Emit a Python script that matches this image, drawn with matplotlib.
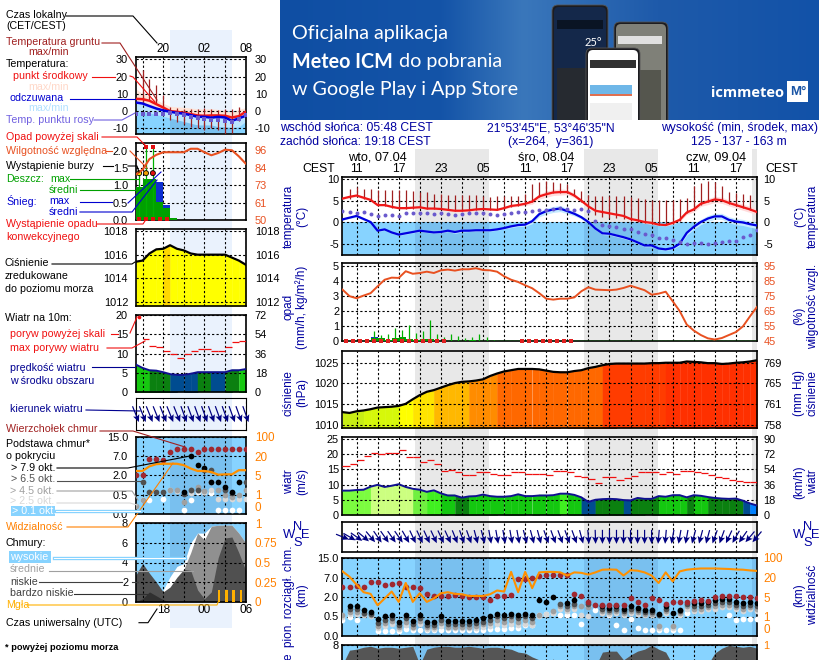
import numpy as np
import matplotlib
matplotlib.use("Agg")
import matplotlib.pyplot as plt
from matplotlib.patches import FancyBboxPatch, Rectangle

plt.rcParams['font.family'] = ['Liberation Sans', 'DejaVu Sans']

n = np.nan

# ---------- long forecast, one value per hour, 07.04 09:00 to 09.04 20:00
hours = np.arange(9, 69)
temp = [5.5, 5.9, 6.2, 5.7, 5.2, 4.0, 4.0, 3.6, 3.3, 3.3,
        3.4, 3.5, 3.2, 3.2, 3.1, 2.9, 2.7, 2.7, 2.8, 3.0,
        3.1, 3.0, 2.9, 3.3, 3.8, 4.0, 4.3, 4.8, 6.0, 6.5,
        6.9, 7.0, 7.0, 6.2, 5.0, 3.7, 2.7, 2.4, 2.1, 1.8,
        1.5, 0.8, 0.5, 0.1, -0.1, -0.5, -0.6, -0.1, 0.6, 2.3,
        3.0, 4.3, 4.8, 5.3, 5.1, 4.5, 4.0, 3.5, 3.0, 2.4]
feels = [0.7, 1.1, 1.5, 0.8, 0.1, -1.9, -1.6, -2.3, -2.8, -2.5,
         -2.2, -1.9, -2.1, -2.3, -2.2, -1.9, -2.2, -1.9, -1.9, -1.8,
         -1.8, -1.8, -1.6, -1.3, -0.9, -0.6, -0.5, 0.3, 1.9, 2.6,
         3.0, 3.2, 2.6, 2.0, 1.2, 0.1, -1.4, -2.5, -2.6, -3.0,
         -3.4, -3.9, -4.6, -5.3, -5.3, -6.0, -6.2, -5.9, -4.9, -2.4,
         -1.0, 0.1, 0.9, 1.4, 1.4, 0.6, 0.2, 0.0, -0.4, -0.7]
dew = [2.7, 2.4, 2.2, 2.4, 2.0, 1.5, 1.7, 1.7, 1.5, 2.1,
       2.1, 2.2, 2.2, 2.0, 2.1, 1.9, 1.7, 1.9, 2.2, 2.2,
       2.2, 1.9, 1.7, 1.9, 2.2, 2.3, 2.5, 2.6, 2.9, 2.9,
       3.2, 3.3, 3.0, 2.8, 3.0, 2.6, 0.3, -0.7, -0.9, -1.1,
       -1.5, -1.5, -2.1, -2.6, -3.0, -3.5, -3.5, -4.0, -4.5, -5.0,
       -4.8, -4.8, -5.0, -4.8, -4.5, -4.3, -4.3, -3.4, -3.0, -1.7]
spread = [0.2, 0.2, 0.3, 0.3, 0.2, 0.2, 0.2, 0.2, 0.2, 0.2,
          0.2, 0.2, 0.2, 0.2, 0.2, 0.2, 0.3, 0.3, 0.2, 0.2,
          0.2, 0.2, 0.2, 0.2, 0.3, 0.3, 0.4, 0.6, 0.6, 0.7,
          0.7, 0.7, 0.6, 0.5, 0.4, 0.3, 0.3, 0.3, 0.3, 0.3,
          0.3, 0.3, 0.3, 0.3, 0.3, 0.2, 0.2, 0.3, 0.4, 0.5,
          0.6, 0.6, 0.7, 0.7, 0.7, 0.7, 0.7, 0.7, 0.7, 0.7]
ground_hours = np.arange(10, 68)
ground_max = [7.8, 8.2, 7.8, 7.8, 7.4, 7.5, 7.5, 7.4, 7.4, 7.2,
              7.1, 6.9, 6.6, 6.6, 6.4, 6.4, 6.4, 6.3, 6.4, 6.0,
              5.8, 6.0, 6.0, 6.0, 6.2, 6.6, 8.9, 9.3, 9.5, 9.3,
              9.1, 8.9, 7.6, 7.2, 6.4, 6.2, 6.2, 6.2, 6.0, 6.0,
              5.8, 5.6, 5.4, 5.2, 5.2, 5.2, 5.2, 5.4, 5.6, 8.5,
              9.1, 9.5, 9.4, 8.5, 7.0, 6.8, 6.6, 6.4]
ground_min = [5.5, 6.0, 5.5, 5.0, 3.8, 3.8, 3.4, 3.2, 3.2, 3.2,
              3.3, 3.0, 3.0, 3.0, 2.8, 2.6, 2.6, 2.7, 2.9, 3.0,
              2.9, 2.8, 3.1, 3.6, 3.8, 4.1, 4.6, 5.8, 6.3, 6.7,
              6.8, 6.8, 6.0, 4.8, 3.2, 1.6, 1.3, 1.1, 1.0, 0.8,
              0.4, 0.2, -0.2, -0.3, -0.6, -0.7, -0.4, 0.4, 2.1, 2.8,
              4.1, 4.6, 5.1, 4.9, 4.3, 3.8, 3.3, 2.8]

humidity = [79.4, 75, 73.6, 75.4, 77, 81.6, 86, 87.4, 87.2, 91.7,
            90, 90.5, 91.4, 90.5, 92.3, 92.8, 92.1, 93, 93, 93.7,
            92.5, 92.3, 91.4, 88.3, 86, 84.5, 82.3, 80.3, 77, 73.3,
            72.7, 73.3, 73.3, 74.2, 78.3, 81, 79.4, 79.2, 79, 79.4,
            80.5, 82, 80.5, 79, 76, 76.7, 78, 71.6, 65, 56,
            52, 49, 46.8, 46, 47, 49, 51, 54.8, 61.5, 67.8]
rain_hours = np.arange(13, 32)
rain_max = [0.65, 0.4, 0.45, 0.9, 0.75, 1.05, 0.55, 0.65, 1.4, 0.5,
            0.3, 0.45, 0.35, 0.2, 0.3, 0.5, 0.25, 0.05, 0.03]
rain_avg = [0.2, 0.2, 0.1, 0.2, 0.25, 0.15, 0.05, 0.15, 0.15, 0.02,
            0.02, 0.02, 0.02, 0.02, 0.07, 0.02, 0.02, 0.01, 0.01]
snow_avg = [0.3, 0.05, 0, 0, 0, 0, 0, 0, 0, 0,
            0, 0, 0, 0, 0, 0, 0, 0, 0]
convective_hours = [9, 10, 11, 12, 13, 14, 15, 16, 17, 18, 19, 20, 21, 22, 23,
                    34, 35, 36, 37, 38, 39, 40, 41]

pressure = [1013.1, 1012.9, 1013.3, 1013.5, 1013.8, 1014.2, 1014.3, 1014.4, 1014.6, 1015.1,
            1016.2, 1017.2, 1018, 1018.4, 1019, 1019.6, 1020.1, 1020.4, 1020.5, 1020.7,
            1021, 1021.8, 1022.4, 1022.9, 1023.2, 1023.5, 1023.5, 1023.5, 1023.4, 1023.1,
            1022.8, 1022.7, 1022.7, 1023, 1023.2, 1023.7, 1024, 1024.4, 1024.7, 1024.8,
            1024.8, 1024.8, 1024.8, 1024.8, 1024.9, 1024.9, 1025, 1025, 1025, 1025.3,
            1025.2, 1025.1, 1024.9, 1024.9, 1024.7, 1024.8, 1025, 1025.1, 1025.3, 1025.6]
pressure_colors = (['#c8ee14'] * 3 + ['#d6f80a'] * 5 + ['#ffff00'] * 2 + ['#ffe400'] * 3
                   + ['#ffb800'] * 5 + ['#ff8c00'] * 4 + ['#ff6800'] * 15 + ['#ff3c00'] * 9
                   + ['#ff3000'] * 13)

wind = [8, 8, 8.2, 8.3, 9.3, 9.9, 9.2, 9.6, 10.1, 9.2,
        8.6, 8.3, 7.6, 8.1, 7.1, 6.4, 6.4, 5.7, 6.1, 6.2,
        6.7, 6.2, 6, 6, 6.2, 6.8, 6.2, 6.2, 6.4, 6.4,
        6.5, 7, 7, 6.6, 5.8, 4.3, 5, 5.2, 5.3, 5.2,
        4.9, 4.8, 5.6, 5.3, 5.3, 6.2, 6, 6.5, 6.5, 5.8,
        6.5, 6.3, 5.9, 5.6, 5.4, 5.3, 5.4, 4.7, 3.8, 3.1]
wind_colors = (['#7cfc40'] * 4 + ['#ccff80'] * 6 + ['#70f040'] * 2 + ['#40f020'] * 2
               + ['#14c810'] * 2 + ['#0b8010'] * 2 + ['#14c810'] * 13 + ['#40f020']
               + ['#14c810'] * 2 + ['#004c90'] * 2 + ['#0b8010'] * 4 + ['#004c90']
               + ['#0b8010'] * 4 + ['#14c810'] * 4 + ['#0b8010'] + ['#14c810'] * 2
               + ['#0b8010'] * 5 + ['#004c90'] + ['#0080ff'])
gust = [16.2, 16.6, 18, 19.3, 20.2, 20, 20.5, 20.2, 21.3, 19,
        19, 17.5, 18, 16.7, 14.4, 14.7, 14, 13, 13, 14,
        14, 13.6, 13, 13, 14, 14, 13.4, 13.6, 13.6, 13,
        14.3, 14.3, 14, 12.8, 12.5, 11.7, 10.4, 12.5, 12.5, 11.5,
        12, 12.8, 14, 14, 14, 13.4, 14, 13.4, 14.3, 14.3,
        14, 13.8, 13, 12.5, 12, 11.5, 11.3, 10.7, 10.7]
wind_dir = [292, 300, 305, 310, 320, 325, 325, 325, 325, 330,
            335, 335, 335, 335, 335, 335, 338, 340, 340, 345,
            345, 350, 350, 350, 350, 350, 345, 345, 345, 340,
            340, 340, 340, 340, 345, 355, 358, 0, 0, 0,
            0, 0, 0, 0, 0, 5, 5, 10, 10, 10,
            15, 15, 15, 20, 20, 25, 30, 35, 40, 40]

cloud_top = [4.5, 4.5, 4.7, 4.5, 5.9, 5.9, 5, 5.3, 5.6, 4.5,
             4.5, 4.3, 2.7, 2.2, 2.2, 2.2, 2.5, 2.2, 2, 2,
             2, 1.75, 2.2, 2.2, 2.4, 6.5, 6.6, 7, 7.8, 8,
             8.2, 8.2, 8.2, 2.8, 2.2, 1.6, 1.4, 1.4, 1.4, 1.4,
             1.4, 1.9, 1.6, 1.4, 1.9, 1.75, 1.5, 1.6, 1.6, 1.6,
             1.7, 1.75, 1.7, 2, 2.3, 2.3, 2.3, 2.1, 2, 1.9]
base_79 = [n, 1.28, 1.28, 0.98, 0.83, 0.44, 0.53, 0.63, 0.35, 0.6,
           0.39, 0.63, 0.37, 0.37, 0.53, 0.38, 0.38, 0.38, 0.38, 0.42,
           0.46, 0.53, 0.7, 0.63, 0.7, 0.63, 0.7, 0.63, 1.78, 1.65,
           2.1, n, 1.53, 1.78, n, n, n, 1.28, 1.15, 1.28,
           1.08, 1.28, 1.15, 0.98, 0.98, 0.73, 1.28, 0.78, 1.03, n,
           1.53, 1.53, 1.65, 1.78, 1.83, 1.83, 1.65, 1.53, 1.65, 1.53]
base_65 = [n, 1.05, 1.05, 0.8, 0.72, 0.33, 0.42, 0.47, 0.28, 0.45,
           0.3, 0.47, 0.28, 0.28, 0.42, 0.3, 0.3, 0.3, 0.3, 0.33,
           0.37, 0.42, 0.52, 0.47, 0.52, 0.47, 0.52, 0.47, n, n,
           n, 1.5, 1.3, 1.5, n, 1.45, n, 1.1, 1.0, 1.1,
           0.9, 1.1, 1.0, 0.85, 0.85, 0.6, 1.1, n, 0.9, 1.5,
           1.3, 1.3, 1.4, 1.55, 1.6, 1.6, 1.4, 1.3, 1.4, 1.3]
base_45 = [0.6, 0.85, 0.85, 0.7, 0.62, 0.25, 0.33, 0.38, 0.22, 0.35,
           0.24, 0.38, 0.23, 0.23, 0.33, 0.24, 0.24, 0.24, 0.24, 0.26,
           0.3, 0.33, 0.4, 0.37, 0.4, 0.37, 0.4, 0.37, 0.62, n,
           0.9, 1.3, 1.1, 1.3, 1.3, 1.2, n, 0.95, 0.85, 0.9,
           0.75, 0.9, 0.85, 0.72, 0.72, 0.25, 0.9, 0.25, 0.75, 1.3,
           1.1, 1.1, 1.2, 1.3, 1.4, 1.4, 1.2, 1.1, 1.2, 1.1]
base_25 = [0.5, 0.7, 0.7, 0.62, 0.55, 0.2, 0.26, 0.3, 0.18, 0.27,
           0.2, 0.3, 0.18, 0.18, 0.26, 0.2, 0.2, 0.2, 0.2, 0.21,
           0.24, 0.26, 0.3, 0.28, 0.3, 0.28, 0.3, 0.28, 0.55, 0.7,
           0.8, 1.1, 0.95, 1.1, 0.6, 0.55, n, 0.8, 0.72, 0.78,
           0.62, 0.78, 0.72, 0.6, 0.6, 0.2, 0.78, 0.2, 0.62, 1.1,
           0.95, 0.95, 1.05, 1.1, 1.2, 1.2, 1.05, 0.95, 1.05, 0.95]
base_01 = [0.4, 0.5, 0.4, n, n, 0.14, 0.14, 0.14, 0.14, 0.17,
           0.15, 0.15, 0.15, 0.15, 0.15, 0.15, 0.15, 0.16, 0.15, 0.15,
           0.15, 0.19, 0.19, 0.19, 0.2, 0.2, 0.29, 0.29, 0.6, 0.7,
           0.75, 0.62, 0.62, 0.62, 0.32, 1.28, 1.0, 0.95, 0.65, 0.29,
           0.15, 0.44, 0.21, 0.16, 0.15, 0.15, 0.15, 0.15, 0.15, 0.8,
           1.28, 1.4, 1.5, 1.6, 1.65, 0.65, 0.4, 0.44, 0.44, 0.44]
visibility = [45, 23, 14.5, 8.7, 7.4, 3.3, 4.7, 9.2, 4, 15.8,
              4, 7.9, 4, 4.7, 7.9, 8.7, 7.4, 7.1, 5.8, 5.8,
              5.8, 7.1, 10, 9.2, 43, 8.7, 43, 11.8, 41, 43,
              43, 41, 28, 41, 39, 32, 41, 52, 53, 52,
              28, 50, 48, 41, 28, 15.8, 41, 17, 45, 52,
              55, 57, 57, 57, 56, 55, 53, 52, 49, 47]
clouds = [6, 7.5, 7.6, 7.8, 7.9, 7.7, 7.8, 7.8, 7.7, 7.8,
          7.9, 6, 7.6, 7.8, 7.9, 7.9, 7.8, 7.8, 7.9, 7.8,
          7.7, 7.8, 7.8, 7.7, 7.6, 7.3, 7.2, 6.8, 6.5, 6,
          6.6, 5.5, 5, 5, 5, 5, 5.8, 7.3, 7.4, 7.4,
          6.5, 7, 7.4, 7.6, 8, 7.6, 7.3, 6, 5, 5,
          5, 5, 6, 7.2, 7.7, 8, 7.9, 7.8, 7.9, 7.7]

# ---------- short forecast in the legend column, 16:00 to 08:00
legend_hours = np.arange(16, 33)
l_temp = [7.1, 6.9, 6, 4, 2.1, 0, -0.4, -1, -1.7, -2.5, -2.7, -2.5, -2.5, -2.7, -3.7, -2.9, -0.4]
l_feels = [5, 4.4, 2.9, 1.5, 0.4, -0.4, -1, -1.5, -2.3, -3.3, -3.3, -3.8, -3.3, -3.7, -5.6, -4.2, -2.7]
l_dew = [-1.5, -1.4, -1.5, -1.5, -1.4, -1, -1.4, -2.3, -3.3, -3.7, -4.7, -4.9, -5.3, -5.6, -6.3, -4.7, -2.3]
l_temp_hi = [13, 10, 8.5, 6.5, 4.5, 2.8, 2.5, 2.2, 1.8, 1.3, 1.2, 1.4, 1, 0.3, -0.4, 1, 2]
l_feels_lo = [-0.5, -0.5, -1, -2, -3, -4, -5, -6, -7, -8, -8, -8, -9, -9, -9.5, -9, -6]
l_ground_hours = np.arange(17, 32)
l_ground_max = [23.6, 18.8, 15, 9.2, 2.5, 2, 1.5, 1, 1.5, 2, 1.5, 0.6, 1, 1.5, 2.5]
l_ground_min = [4.4, 6.3, 4.4, 0.6, -5.2, -6.2, -7.5, -9, -10, -11, -10, -11, -13, -12.5, -5.6]
l_humidity = [79.9, 83.2, 90.2, 93, 94.7, 94.7, 94.7, 94.7, 97, 97, 94.7, 92.7, 94.2, 96.4, 96, 92, 87.2]
l_rain = [0.96, 1.17, 1.17, 0.53, 0.34, 0.07]
l_snow = [0, 0, 0, 1.09, 0.43, 0]
l_rain_hours = [16, 17, 18, 19, 20, 21]
l_rain_max = [1.4, 2.1, 2.1]
l_pressure = [1015.4, 1015.5, 1016.1, 1016.45, 1016.5, 1016.8, 1016.5, 1016.36, 1016.1, 1016, 1016,
              1016, 1016, 1016, 1015.75, 1015.5, 1015.15]
l_pressure_colors = ['#ffff00'] * 4 + ['#ffd800'] + ['#ffff00'] * 11
l_wind = [7.2, 6.3, 5.7, 5.6, 5.2, 4.7, 4.5, 4.5, 4.8, 5.2, 5.2, 5.2, 5.2, 5.2, 5.7, 5.7, 6]
l_wind_colors = (['#16c810'] * 2 + ['#0b8010'] * 3 + ['#004c90'] * 4 + ['#0b8010'] * 2
                 + ['#004c90'] * 2 + ['#0b8010'] * 2 + ['#16c810'])
l_gust = [n, 13.8, 11.9, 11.7, 10.8, 9.8, 9, 9.9, 10.7, 11.1, 11.1, 10.8, 10.8, 11.8, 13, 13.2]
l_dir = [338, 338, 338, 338, 338, 338, 338, 340, 340, 340, 340, 340, 340, 340, 340, 340, 340]
l_top = [2, 2, 6.2, 6.2, 5.9, 8.8, 9.8, 9.8, 9.8, 8.8, 9.8, 9.8, 9.8, 9.8, 9.8, 9.8, 9.8]
l_79 = [n, n, n, n, n, n, n, 0.7, 7, 4.8, 3.9, 1.5, 1.5, 1.1, 0.7, 1.5, n]
l_65 = [n, 1.5, 0.7, 0.7, 0.7, n, n, 0.55, 0.9, 0.9, 3.3, 3.3, n, 0.9, 0.6, n, 1.5]
l_45 = [0.2, 0.35, n, n, n, 0.9, 0.9, 0.3, 0.85, 1.1, 0.8, 1.5, 0.85, 0.5, 0.45, 0.5, 0.9]
l_25 = [n, n, n, n, n, 0.85, 0.8, n, 0.6, 0.75, 0.7, 0.85, 0.4, 0.4, 0.4, 0.4, 0.4]
l_01 = [n, 0.35, 0.35, n, 0.4, n, n, 0.1, 0.35, 0.7, 0.7, 0.6, 0.1, 0.1, 0.1, 0.1, n]
l_vis = [8.4, 8.4, 12, 13.7, 14, 14, 14, 12.9, 10.3, 8.4, 8.4, 7.6, 5.5, 5.8, 5.8, 9, 9]
l_high = [0, 0, 0, 0, 1.2, 2.55, 3.6, 3.9, 6, 7, 7, 7.7, 7.8, 7.8, 7.8, 7, 6]
l_mid = [0, 0, 0, 0, 0, 0, 1.5, 3.3, 5, 7, 6.3, 7.7, 7.8, 7.8, 7.8, 7, 6]
l_low = [2.7, 3.9, 2.9, 2, 1, 1.5, 2.5, 3.3, 3.2, 1.2, 0.3, 1, 4.5, 6.5, 6.6, 5, 3.2]
l_vlow = [0, 0.3, 1, 0.6, 0.2, 0, 0, 0, 0, 0, 0, 0, 0, 0, 0, 0, 0]
fog_hours = [28.1, 29.2, 30.2, 31.3]
fog = [0.15, 0.15, 0.15, 0.15]

night_start = [19.3, 43.4, 67.25]
night_end = [29.85, 53.9, 68]

W, H = 820, 660
FS = 7.7
TS = 7.9
NAVY = '#0000a0'
SKY = '#87d3ff'
ORANGE = '#ff8000'
HUM = '#e85020'
DARKRED = '#a02020'

fig = plt.figure(figsize=(W / 100, H / 100), dpi=100)


def px_axes(l, t, r, b):
    return fig.add_axes([l / W, 1 - b / H, (r - l) / W, (b - t) / H])


def panel(box, xlim, grid_x, ylim, yt, ytl, rlim=None, rt=None, rtl=None, rcolor='k', pads=(2, 4)):
    ax = px_axes(*box)
    ax.patch.set_visible(False)
    ax.set_xlim(*xlim)
    ax.set_xticks(grid_x)
    ax.set_ylim(*ylim)
    ax.set_yticks(yt)
    ax.set_yticklabels(ytl, fontsize=TS)
    ax.tick_params(which='both', length=0, labelbottom=False, pad=pads[0])
    ax.grid(True, color='k', ls=(0, (2, 2)), lw=0.8)
    ax.set_axisbelow(False)
    for s in ax.spines.values():
        s.set_linewidth(1.2)
    rax = ax.twinx()
    rax.set_ylim(*(rlim if rlim else ylim))
    rax.set_yticks(rt if rt is not None else yt)
    rax.set_yticklabels(rtl if rtl is not None else ytl, fontsize=TS, color=rcolor)
    rax.tick_params(which='both', length=0, pad=pads[1])
    for s in rax.spines.values():
        s.set_visible(False)
    return ax, rax


def color_fill(ax, x, y, colors, low):
    for i, c in enumerate(colors):
        ax.fill_between(x[i:i + 2], y[i:i + 2], low, color=c, lw=0.3, zorder=1)


def dirs(ax, x, d, length):
    d = np.radians(d)
    ax.quiver(x, np.full(len(x), 0.5), -np.sin(d), -np.cos(d), angles='uv', pivot='mid',
              units='dots', scale_units='dots', scale=1 / length, width=1.2,
              headwidth=5.5, headlength=6, headaxislength=5, color='#000080',
              clip_on=False, zorder=5)


def km_pos(v):
    return np.interp(v, [0, 0.5, 2, 7, 15], [0, 1, 2, 3, 4])


def pos_km(v):
    return np.interp(v, [0, 1, 2, 3, 4], [0, 0.5, 2, 7, 15])


def vis_pos(v):
    return np.interp(v, [0, 1, 5, 20, 100], [0, 1, 2, 3, 4])


def pos_vis(v):
    return np.interp(v, [0, 1, 2, 3, 4], [0, 1, 5, 20, 100])


def cloud_panel(box, xlim, grid_x, pads):
    ax, rax = panel(box, xlim, grid_x, (0, 15), [0, 0.5, 2, 7, 15], ['0.0', '0.5', '2.0', '7.0', '15.0'],
                    (0, 100), [0, 1, 5, 20, 100], ['0', '1', '5', '20', '100'], ORANGE, pads)
    ax.set_yscale('function', functions=(km_pos, pos_km))
    ax.set_ylim(0, 15)
    ax.set_yticks([0, 0.5, 2, 7, 15])
    ax.set_yticklabels(['0.0', '0.5', '2.0', '7.0', '15.0'], fontsize=TS)
    ax.tick_params(which='both', length=0, labelbottom=False, pad=pads[0])
    rax.set_yscale('function', functions=(vis_pos, pos_vis))
    rax.set_ylim(0, 100)
    rax.set_yticks([0, 1, 5, 20, 100])
    rax.set_yticklabels(['0', '1', '5', '20', '100'], fontsize=TS + 0.5, color=ORANGE)
    # the lowest label would run into the "1" of the panel below
    rax.get_yticklabels()[0].set_va('bottom')
    rax.tick_params(which='both', length=0, pad=pads[1])
    ax.patch.set_visible(True)
    ax.set_facecolor(SKY)
    return ax, rax


def base_dots(ax, x, series, size):
    for vals, c in series:
        ax.scatter(x, vals, s=size, color=c, lw=0, zorder=3, clip_on=True)


# ---------- night bands behind everything
back = px_axes(342.5, 149, 757, 660)
back.set_xlim(9, 68)
back.axis('off')
back.set_zorder(-1)
for a, b in zip(night_start, night_end):
    back.axvspan(a, b, color='#e8e8e8', lw=0)
l_back = px_axes(135.7, 30, 245.7, 628)
l_back.set_xlim(16, 32)
l_back.axis('off')
l_back.set_zorder(-1)
l_back.axvspan(21, 30, color='#eaf2fd', lw=0)

# ---------- main column
main_x = (9, 68)
main_grid = np.arange(11, 68, 3)
main_pads = (2.5, 4.5)

# temperature
ax, rax = panel((342.5, 177.3, 757, 255), main_x, main_grid, (-7.5, 10.4), [-5, 0, 5, 10],
                ['-5', '0', '5', '10'], pads=main_pads)
ax.axhspan(-7.5, 0, color=SKY, lw=0, zorder=0.5)
for a, b in zip(night_start, night_end):
    ax.axvspan(a, b, ymax=7.5 / 17.9, color='#3060a0', alpha=0.16, lw=0, zorder=0.6)
temp_a, feels_a, spread_a = np.array(temp), np.array(feels), np.array(spread)
ax.fill_between(hours, temp_a - spread_a, temp_a + spread_a, color='#ffdcdc', lw=0, zorder=1)
ax.fill_between(hours, feels_a - spread_a, feels_a + spread_a, color='#c4eaff', lw=0, zorder=1)
ax.vlines(ground_hours, ground_min, ground_max, color=DARKRED, lw=0.9, zorder=3)
ax.plot(hours, temp, color='#f01818', lw=1.6, zorder=4)
ax.plot(hours, feels, color='#0000e0', lw=1.6, zorder=4)
ax.scatter(hours, dew, s=8, color='#6a5acd', lw=0, zorder=4)
ax.tick_params(axis='x', labeltop=True, labelbottom=False, pad=1.5)
ax.set_xticklabels(['%02d' % (h % 24) if (h - 11) % 6 == 0 else '' for h in main_grid], fontsize=8.8)

# rain and humidity
ax, rax = panel((342.5, 263.3, 757, 341), main_x, main_grid, (0, 5.2), [0, 1, 2, 3, 4, 5],
                ['0', '1', '2', '3', '4', '5'], (45, 97), [45, 55, 65, 75, 85, 95],
                ['45', '55', '65', '75', '85', '95'], HUM, main_pads)
ax.bar(rain_hours, snow_avg, width=1, align='edge', color='#1030d0', lw=0, zorder=3)
ax.bar(rain_hours, rain_avg, width=1, align='edge', color='#00a000', lw=0, zorder=3)
ax.vlines(rain_hours + 0.5, 0, rain_max, color='#00b000', lw=0.9, zorder=3)
ax.axhline(0, color='#00a000', lw=1, zorder=3)
ax.scatter(np.array(convective_hours) + 0.5, [0.03] * len(convective_hours), s=8, marker='s',
           color='#e02020', lw=0, zorder=4, clip_on=False)
rax.plot(hours, humidity, color=HUM, lw=1.4)

# pressure
ticks = [1010, 1015, 1020, 1025]
ax, rax = panel((342.5, 350.7, 757, 428.3), main_x, main_grid, (1009.2, 1027.9), ticks,
                [str(t) for t in ticks], None, ticks, ['758', '761', '765', '769'], 'k', main_pads)
color_fill(ax, hours, pressure, pressure_colors, 1009.2)
ax.plot(hours, pressure, color='k', lw=1.6, zorder=4)

# wind
ax, rax = panel((342.5, 437.3, 757, 515), main_x, main_grid, (0, 25.5), [0, 5, 10, 15, 20, 25],
                ['0', '5', '10', '15', '20', '25'], (0, 91.8), [0, 18, 36, 54, 72, 90],
                ['0', '18', '36', '54', '72', '90'], 'k', main_pads)
color_fill(ax, hours, wind, wind_colors, 0)
ax.plot(hours, wind, color='#101090', lw=1.4, zorder=4)
ax.hlines(gust, hours[:-1], hours[1:], color='#f01010', lw=0.9, zorder=4)

# wind direction
ax = px_axes(342.5, 521.7, 757, 552)
ax.patch.set_visible(False)
ax.set_xlim(*main_x)
ax.set_ylim(0, 1)
ax.set_xticks(main_grid)
ax.set_yticks([])
ax.tick_params(length=0, labelbottom=False)
ax.grid(True, axis='x', color='k', ls=(0, (2, 2)), lw=0.8)
ax.set_axisbelow(False)
for s in ax.spines.values():
    s.set_linewidth(1.2)
dirs(ax, hours, wind_dir, 14)

# cloud base, top and visibility
ax, rax = cloud_panel((342.5, 558, 757, 636), main_x, main_grid, main_pads)
for a, b in zip(night_start, night_end):
    ax.axvspan(a, b, color='#3060a0', alpha=0.16, lw=0, zorder=0.6)
base_dots(ax, hours, [(base_01, 'white'), (base_25, '#d8d8d8'), (base_45, '#a0a0a0'),
                      (base_65, '#505050'), (base_79, 'black'), (cloud_top, '#a02830')], 17)
rax.plot(hours, visibility, color='#ff9000', lw=1.5)

# clouds, cut by the lower edge of the picture
ax, rax = panel((342.5, 645.3, 757, 723), main_x, main_grid, (0, 8), [8], ['8'], (0, 1), [1], ['1'], ORANGE, main_pads)
ax.patch.set_visible(True)
ax.set_facecolor(SKY)
for a, b in zip(night_start, night_end):
    ax.axvspan(a, b, color='#3060a0', alpha=0.16, lw=0, zorder=0.6)
ax.fill_between(hours, clouds, 0, color='#555555', lw=0, zorder=1)

# ---------- legend column
leg_x = (16, 32)
leg_grid = np.arange(17, 33, 3)
leg_pads = (5.5, 6.5)

ax, rax = panel((135.7, 57.3, 245.7, 134.3), leg_x, leg_grid, (-13.4, 31.1), [-10, 0, 10, 20, 30],
                ['-10', '0', '10', '20', '30'], pads=leg_pads)
ax.axhspan(-13.4, 0, color=SKY, lw=0, zorder=0.5)
ax.axvspan(21, 30, ymax=13.4 / 44.5, color='#3060a0', alpha=0.16, lw=0, zorder=0.6)
ax.fill_between(legend_hours, l_feels, l_temp_hi, color='#ffe4d8', lw=0, zorder=1)
ax.fill_between(legend_hours, l_feels_lo, l_feels, color='#bce6ff', lw=0, zorder=1)
ax.vlines(l_ground_hours, l_ground_min, l_ground_max, color=DARKRED, lw=0.9, zorder=3)
ax.plot(legend_hours, l_temp, color='#f01818', lw=1.8, zorder=4)
ax.plot(legend_hours, l_feels, color='#0000e0', lw=1.8, zorder=4)
ax.scatter(legend_hours, l_dew, s=8, marker='s', color='#6a5acd', lw=0, zorder=4)
ax.tick_params(axis='x', labeltop=True, labelbottom=False, pad=2)
ax.set_xticklabels(['', '20', '', '02', '', '08'], fontsize=8.5)

ax, rax = panel((135.7, 143.3, 245.7, 220), leg_x, leg_grid, (0, 2.21), [0, 0.5, 1, 1.5, 2],
                ['0.0', '0.5', '1.0', '1.5', '2.0'], (50, 100.6), [50, 61, 73, 84, 96],
                ['50', '61', '73', '84', '96'], HUM, leg_pads)
ax.bar(l_rain_hours, l_snow, width=1, align='edge', color='#1030d0', lw=0, zorder=3)
ax.bar(l_rain_hours, l_rain, width=1, align='edge', color='#00a000', lw=0, zorder=3)
ax.vlines(np.array(l_rain_hours[:3]) + 0.5, 0, l_rain_max, color='#00b000', lw=0.9, zorder=4)
ax.scatter([17.5, 18.5], [2.1, 2.1], s=10, marker='s', color='#e01010', lw=0, zorder=5)
ax.scatter([16.5, 17.5, 18.5], [1.35, 1.35, 1.35], s=13, c=['#ffe000', '#f0a000', '#e01010'],
           edgecolors='k', linewidths=0.6, zorder=5)
ax.scatter([16.5, 17.5, 18.5, 19.5, 20.5], [0.02] * 5, s=7, marker='s', color='#e01010', lw=0, zorder=5)
rax.plot(legend_hours, l_humidity, color=HUM, lw=1.5)

ticks = [1012, 1014, 1016, 1018]
ax, rax = panel((135.7, 229.3, 245.7, 306), leg_x, leg_grid, (1011.65, 1018.15), ticks,
                [str(t) for t in ticks], pads=leg_pads)
color_fill(ax, legend_hours, l_pressure, l_pressure_colors, 1011.65)
ax.plot(legend_hours, l_pressure, color='k', lw=1.6, zorder=4)

ax, rax = panel((135.7, 315, 245.7, 392.3), leg_x, leg_grid, (0, 20), [0, 5, 10, 15, 20],
                ['0', '5', '10', '15', '20'], (0, 72), [0, 18, 36, 54, 72], ['0', '18', '36', '54', '72'], 'k', leg_pads)
color_fill(ax, legend_hours, l_wind, l_wind_colors, 0)
ax.plot(legend_hours, l_wind, color='#101090', lw=1.4, zorder=4)
ax.hlines(l_gust, legend_hours[:-1], legend_hours[1:], color='#f01010', lw=0.9, zorder=4)
ax.scatter([16.5], [19.6], s=7, color='#f01010', lw=0, zorder=5, clip_on=False)

ax = px_axes(135.7, 398.3, 245.7, 430)
ax.patch.set_visible(False)
ax.set_xlim(*leg_x)
ax.set_ylim(0, 1)
ax.set_xticks(leg_grid)
ax.set_yticks([])
ax.tick_params(length=0, labelbottom=False)
ax.grid(True, axis='x', color='k', ls=(0, (2, 2)), lw=0.8)
ax.set_axisbelow(False)
dirs(ax, legend_hours, l_dir, 17)

ax, rax = cloud_panel((135.7, 436.7, 245.7, 514), leg_x, leg_grid, leg_pads)
ax.axvspan(21, 30, color='#3060a0', alpha=0.16, lw=0, zorder=0.6)
base_dots(ax, legend_hours, [(l_01, 'white'), (l_25, '#d8d8d8'), (l_45, '#a0a0a0'),
                             (l_65, '#505050'), (l_79, 'black'), (l_top, '#a02830')], 17)
rax.plot(legend_hours, l_vis, color='#ff9000', lw=1.6)

ax, rax = panel((135.7, 523.3, 245.7, 601.7), leg_x, leg_grid, (0, 8), [0, 2, 4, 6, 8],
                ['0', '2', '4', '6', '8'], (0, 1), [0, 0.25, 0.5, 0.75, 1],
                ['0', '0.25', '0.5', '0.75', '1'], ORANGE, leg_pads)
ax.patch.set_visible(True)
ax.set_facecolor(SKY)
ax.axvspan(21, 30, color='#3060a0', alpha=0.16, lw=0, zorder=0.6)
ax.fill_between(legend_hours, l_high, 0, color='white', lw=0, zorder=1)
ax.fill_between(legend_hours, l_mid, 0, color='#909090', lw=0, zorder=1.1)
ax.fill_between(legend_hours, l_low, 0, color='#505050', lw=0, zorder=1.2)
ax.fill_between(legend_hours, l_vlow, 0, color='#303030', lw=0, zorder=1.3)
rax.bar(fog_hours, fog, width=0.38, color='#ffb000', lw=0)
ax.tick_params(axis='x', labelbottom=True, pad=2)
ax.set_xticklabels(['', '18', '', '00', '', '06'], fontsize=8.5)
for s in rax.get_yticklabels():
    s.set_fontsize(TS + 0.5)

# ---------- banner
banner = px_axes(280, 0, 820, 120)
x_pos = np.linspace(0, 1, 270)
stops = [0, 0.3, 0.45, 0.7, 1]
grad = np.dstack([np.interp(x_pos, stops, [15, 20, 58, 30, 18]),
                  np.interp(x_pos, stops, [78, 84, 119, 90, 82]),
                  np.interp(x_pos, stops, [163, 168, 187, 170, 168])]) / 255
banner.imshow(grad, aspect='auto', extent=(280, 820, 120, 0))
banner.axis('off')

# overlay in pixel coordinates, for every free label and leader line
over = fig.add_axes([0, 0, 1, 1], facecolor='none')
over.set_xlim(0, W)
over.set_ylim(H, 0)
over.axis('off')
over.set_zorder(20)


def phone(x0, y0, x1, y1, screen):
    over.add_patch(FancyBboxPatch((x0, y0), x1 - x0, y1 - y0, boxstyle='round,pad=0,rounding_size=6',
                                  fc='#1c1c20', ec='#555555', lw=0.6, clip_on=True))
    over.add_patch(FancyBboxPatch((x0 + 2, y0 + 2), x1 - x0 - 4, y1 - y0 - 2, boxstyle='round,pad=0,rounding_size=5',
                                  fc=screen, ec='none'))


phone(552, 5, 608, 125, '#14284a')
over.text(585, 43, '25°', color='white', fontsize=8, family='Lato', va='center')
over.add_patch(Rectangle((557, 20), 46, 9, fc='#0a1424', ec='none'))
over.add_patch(Rectangle((557, 68), 46, 52, fc='#262a30', ec='none'))
phone(614, 22, 668, 125, '#7f8078')
over.add_patch(Rectangle((618, 36), 44, 8, fc='#e0e0e0', ec='none'))
over.add_patch(Rectangle((635, 70), 26, 50, fc='#55564e', ec='none'))
phone(586, 48, 640, 125, 'white')
over.add_patch(Rectangle((590, 60), 46, 8, fc='#303030', ec='none'))
over.add_patch(Rectangle((590, 85), 42, 9, fc='#6fb7e8', ec='none'))
over.add_patch(Rectangle((590, 94), 42, 2, fc='#e07050', ec='none'))
over.add_patch(Rectangle((590, 103), 42, 17, fc='#f0f0f0', ec='none'))
# the phones run on below the banner, cover what sticks out
over.add_patch(Rectangle((540, 120), 140, 10, fc='white', ec='none'))

over.text(292.5, 33.5, 'Oficjalna aplikacja', color='white', family='Lato', fontsize=14.2, va='center')
over.text(292.5, 62, 'Meteo ICM', color='white', family='Lato', weight='bold', fontsize=14.2, va='center')
over.text(399, 62, 'do pobrania', color='white', family='Lato', fontsize=14.2, va='center')
over.text(292.5, 90, 'w Google Play i App Store', color='white', family='Lato', fontsize=14.2, va='center')
over.text(711, 93, 'icmmeteo', color='white', family='Open Sans', weight='bold', fontsize=10.5, va='center')
over.add_patch(Rectangle((787.5, 81), 21, 21, fc='white', ec='none'))
over.text(798, 92, 'M°', color='#1a55a5', family='Liberation Sans', weight='bold', fontsize=9.5, ha='center', va='center')

# header lines
HS = 8.7
over.text(280, 128.3, 'wschód słońca: 05:48 CEST', color=NAVY, fontsize=HS, va='center')
over.text(280, 141.7, 'zachód słońca: 19:18 CEST', color=NAVY, fontsize=HS, va='center')
over.text(551, 128.3, '21°53\'45"E, 53°46\'35"N', color=NAVY, fontsize=HS, ha='center', va='center')
over.text(551, 141.7, '(x=264,  y=361)', color=NAVY, fontsize=HS, ha='center', va='center')
over.text(818, 128.3, 'wysokość (min, środek, max)', color=NAVY, fontsize=HS, ha='right', va='center')
over.text(739, 141.7, '125 - 137 - 163 m', color=NAVY, fontsize=HS, ha='center', va='center')
for x, s in [(377.6, 'wto, 07.04'), (546, 'śro, 08.04'), (716, 'czw, 09.04')]:
    over.text(x, 157.3, s, fontsize=9.2, ha='center', va='center')
over.text(319, 169.5, 'CEST', fontsize=8.8, ha='center', va='center')
over.text(782, 169.5, 'CEST', fontsize=8.8, ha='center', va='center')

# rotated axis titles beside the main panels
for x, y, s in [(289, 216, 'temperatura'), (302, 216, '(°C)'), (800, 216, '(°C)'), (813, 216, 'temperatura'),
                (289, 307, 'opad'), (302, 307, '(mm/h, kg/m²/h)'), (799, 316, '(%)'), (813, 306, 'wilgotność wzgl.'),
                (289, 392.7, 'ciśnienie'), (302, 392.7, '(hPa)'), (799, 392.7, '(mm Hg)'), (813, 392.7, 'ciśnienie'),
                (289, 481.7, 'wiatr'), (302, 481.7, '(m/s)'), (799, 481.7, '(km/h)'), (813, 481.7, 'wiatr'),
                (302, 595, '(km)'), (799, 595, '(km)'), (813, 595, 'widzialność')]:
    over.text(x, y, s, color=NAVY, fontsize=8.5, rotation=90, ha='center', va='center')
over.text(289, 660, 'e  pion. rozciągł. chm.', color=NAVY, fontsize=8.5, rotation=90, ha='center', va='bottom')
for x in (298, 808):
    over.text(x, 527, 'N', color=NAVY, fontsize=9.2, ha='center', va='center')
    over.text(x - 9, 535, 'W', color=NAVY, fontsize=9.2, ha='center', va='center')
    over.text(x + 7, 535, 'E', color=NAVY, fontsize=9.2, ha='center', va='center')
    over.text(x, 543, 'S', color=NAVY, fontsize=9.2, ha='center', va='center')

# legend column labels
BLUE = '#0000d0'
GREEN = '#00a000'
RED = '#f01010'
labels = [
    (6, 15, 'Czas lokalny', 'k'), (6, 26, '(CET/CEST)', 'k'),
    (6, 42, 'Temperatura gruntu', DARKRED), (28, 52, 'max/min', DARKRED), (6, 64, 'Temperatura:', 'k'),
    (13, 76, 'punkt środkowy', RED), (28, 87, 'max/min', '#ffd8c8'), (10, 98, 'odczuwana', BLUE),
    (28, 108, 'max/min', '#b0e0ff'), (6, 120, 'Temp. punktu rosy', '#7060e0'),
    (6, 137, 'Opad powyżej skali', RED), (6, 151, 'Wilgotność względna', HUM), (6, 165.7, 'Wystąpienie burzy', 'k'),
    (6, 179, 'Deszcz:', GREEN), (50, 179, 'max', GREEN), (49, 190, 'średni', GREEN),
    (6, 201, 'Śnieg:', BLUE), (49, 201, 'max', BLUE), (49, 212, 'średni', BLUE),
    (6, 224, 'Wystąpienie opadu', RED), (6, 237, 'konwekcyjnego', RED),
    (5, 263, 'Ciśnienie', 'k'), (5, 276, 'zredukowane', 'k'), (5, 289, 'do poziomu morza', 'k'),
    (5, 318, 'Wiatr na 10m:', 'k'), (10, 334, 'poryw powyżej skali', RED), (10, 348, 'max porywy wiatru', RED),
    (10, 368, 'prędkość wiatru', '#000090'), (10, 381, 'w środku obszaru', '#000090'),
    (10, 409, 'kierunek wiatru', '#000090'), (6, 429, 'Wierzchołek chmur', DARKRED),
    (6, 444, 'Podstawa chmur*', 'k'), (6, 456, 'o pokryciu', 'k'),
    (11, 468, '> 7.9 okt.', 'k'), (11, 479, '> 6.5 okt.', '#505050'), (10, 491, '> 4.5 okt.', '#a0a0a0'),
    (10, 501, '> 2.5 okt.', '#d8d8d8'), (6, 526.7, 'Widzialność', ORANGE), (6, 543, 'Chmury:', 'k'),
    (10, 569, 'średnie', '#a0a0a0'), (10, 581.7, 'niskie', '#404040'), (10, 593, 'bardzo niskie', '#404040'),
    (6, 605, 'Mgła', '#ffb000'), (6, 622.7, 'Czas uniwersalny (UTC)', 'k'),
]
for x, y, s, c in labels:
    over.text(x, y, s, color=c, fontsize=FS, va='center')
over.add_patch(Rectangle((11, 506), 44, 10, fc=SKY, ec='none'))
over.text(12, 511, '> 0.1 okt.', color='white', fontsize=FS, va='center')
over.add_patch(Rectangle((9.3, 551), 41.7, 11.7, fc=SKY, ec='none'))
over.text(10.5, 557, 'wysokie', color='white', fontsize=FS, va='center')
over.text(5, 648, '* powyżej poziomu morza', fontsize=6.7, weight='bold', va='center')

leaders = [
    ('k', [66, 133, 157], [16, 16, 43]),
    (DARKRED, [102, 120, 157], [43, 43, 100]),
    (RED, [92, 115], [76.7, 76.7]), (RED, [130, 133, 155], [76, 77, 102]),
    (BLUE, [70, 135], [99, 99]),
    ('#7060e0', [94, 122, 135], [120, 120, 113]),
    (RED, [102, 137, 147], [137, 137, 147]),
    (HUM, [106, 112], [151, 151]), (HUM, [130, 147], [151, 168]),
    ('k', [103, 113], [166, 166]), ('k', [128, 137, 139], [166, 166, 172]),
    (GREEN, [70, 139], [179, 179]), (GREEN, [80, 143], [190, 190]),
    (BLUE, [80, 112], [202, 202]), (BLUE, [128, 161], [203, 172]),
    (BLUE, [80, 132, 157], [212, 212, 180]),
    (RED, [97, 143, 147], [224, 224, 218]),
    ('k', [52, 132, 135], [264, 264, 262]),
    (RED, [111, 118], [334, 334]), (RED, [130, 137], [333, 317]),
    (RED, [107, 132, 145], [348, 348, 341]),
    ('#000090', [92, 135], [367, 367]),
    ('#000090', [86, 140], [410, 411]),
    (DARKRED, [100, 133, 185], [431, 431, 447]),
    ('k', [57, 128, 190], [468, 468, 456]),
    ('#505050', [57, 143], [481, 481]),
    ('#a0a0a0', [57, 132, 138], [491, 491, 500]),
    ('#d8d8d8', [57, 130, 137], [503, 503, 505]),
    (ORANGE, [67, 128, 173], [527, 527, 463]),
    ('#a0a0a0', [49, 193], [571, 571]),
    ('#404040', [39, 122], [582, 582]), ('#404040', [132, 138], [582, 582]),
    ('#303030', [74, 150], [594, 594]),
    ('#ffb000', [27, 217, 219], [605, 605, 600]),
    ('k', [139, 148, 157], [622.7, 622.7, 609]),
]
for c, xs, ys in leaders:
    over.plot(xs, ys, color=c, lw=0.8)
for xs, ys in [([56, 140], [511, 511]), ([54, 185], [557.7, 557.7])]:
    over.plot(xs, ys, color=SKY, lw=2.4)
    over.plot(xs, ys, color='white', lw=0.7)

fig.savefig('out.png', dpi=100)
